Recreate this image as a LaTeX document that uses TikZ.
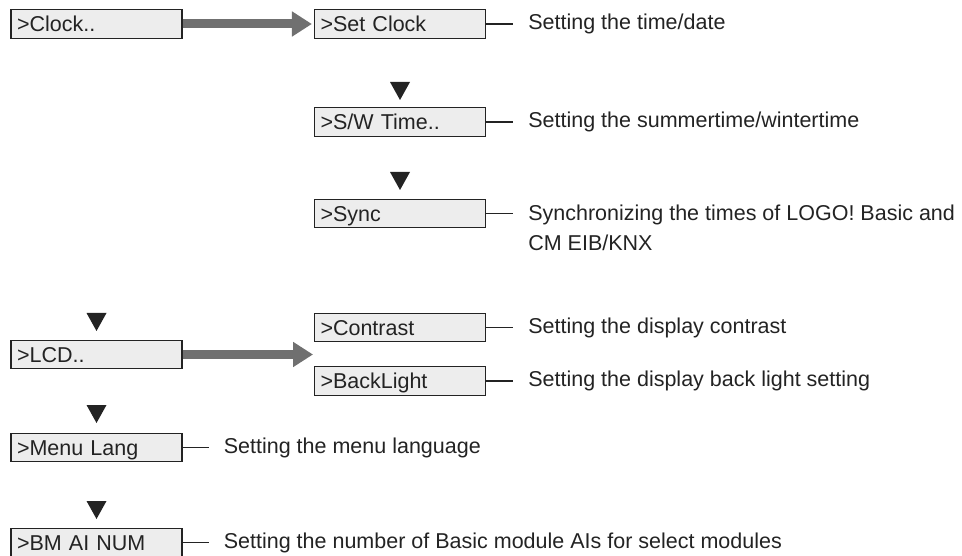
\documentclass[tikz,border=0pt]{standalone}
\usepackage{fontspec}
\setmainfont{Liberation Sans}
\usepackage{tikz}
\usetikzlibrary{arrows.meta,positioning}
\definecolor{MenuInk}{RGB}{35,35,35}
\definecolor{MenuFill}{RGB}{237,237,237}
\definecolor{MenuArrow}{RGB}{112,112,112}

\begin{document}
\begin{tikzpicture}[
x=1pt, y=-1pt,
every node/.style={
font=\fontsize{21.5}{30}\selectfont,
text=MenuInk
},
menu/.style={
draw=MenuInk,
line width=1.2pt,
fill=MenuFill,
minimum width=171pt,
minimum height=28.5pt,
inner xsep=6pt,
inner ysep=6pt,
text width=159pt,
align=left,
text height=15.4pt,
text depth=0pt
},
desc/.style={
inner xsep=15pt,
inner ysep=0pt,
align=left
},
tick/.style={
draw=MenuInk,
line width=1.3pt
},
flow/.style={
draw=MenuArrow,
line width=9pt,
-{Triangle[length=20pt,width=24pt]},
shorten >=2pt
},
navdown/.pic={
\fill[MenuInk] (-10,-9) -- (10,-9) -- (0,9) -- cycle;
}
]
\useasboundingbox (0,0) rectangle (962,556);

% clock branch
\node[menu] (clock) at (96.5,24) {>Clock..};
\node[menu] (setclock) at (400,24) {>Set Clock};
\pic at (400,91) {navdown};
\node[menu] (swtime) at (400,122) {>S/W Time..};
\pic at (400,181) {navdown};
\node[menu] (sync) at (400,213.5) {>Sync};

\draw[flow] (clock) -- (setclock);

\node[desc, right=27pt of setclock] (dsetclock) {Setting the time/date};
\node[desc, right=27pt of swtime] (dswtime) {Setting the summertime/wintertime};
\node[desc, right=27pt of sync, yshift=-14pt] (dsync) {Synchronizing the times of LOGO! Basic and\\CM EIB/KNX};

\draw[tick] (setclock.east) -- (dsetclock.west);
\draw[tick] (swtime.east) -- (dswtime.west);
\draw[tick] (sync.east) -- (sync.east -| dsync.west);

% lcd branch
\pic at (96.5,322) {navdown};
\node[menu] (lcd) at (96.5,354.5) {>LCD..};
\node[menu] (contrast) at (400,327.5) {>Contrast};
\node[menu] (backlight) at (400,381) {>BackLight};
\coordinate (lcdend) at (315,354.5);

\draw[flow] (lcd.east) -- (lcdend);

\node[desc, right=27pt of contrast] (dcontrast) {Setting the display contrast};
\node[desc, right=27pt of backlight] (dbacklight) {Setting the display back light setting};

\draw[tick] (contrast.east) -- (dcontrast.west);
\draw[tick] (backlight.east) -- (dbacklight.west);

% language and modules
\pic at (96.5,414) {navdown};
\node[menu] (menulang) at (96.5,447.5) {>Menu Lang};
\pic at (96.5,510) {navdown};
\node[menu] (bmainum) at (96.5,542.5) {>BM AI NUM};

\node[desc, right=26pt of menulang] (dmenulang) {Setting the menu language};
\node[desc, right=26pt of bmainum] (dbmainum) {Setting the number of Basic module AIs for select modules};

\draw[tick] (menulang.east) -- (dmenulang.west);
\draw[tick] (bmainum.east) -- (dbmainum.west);
\end{tikzpicture}
\end{document}
